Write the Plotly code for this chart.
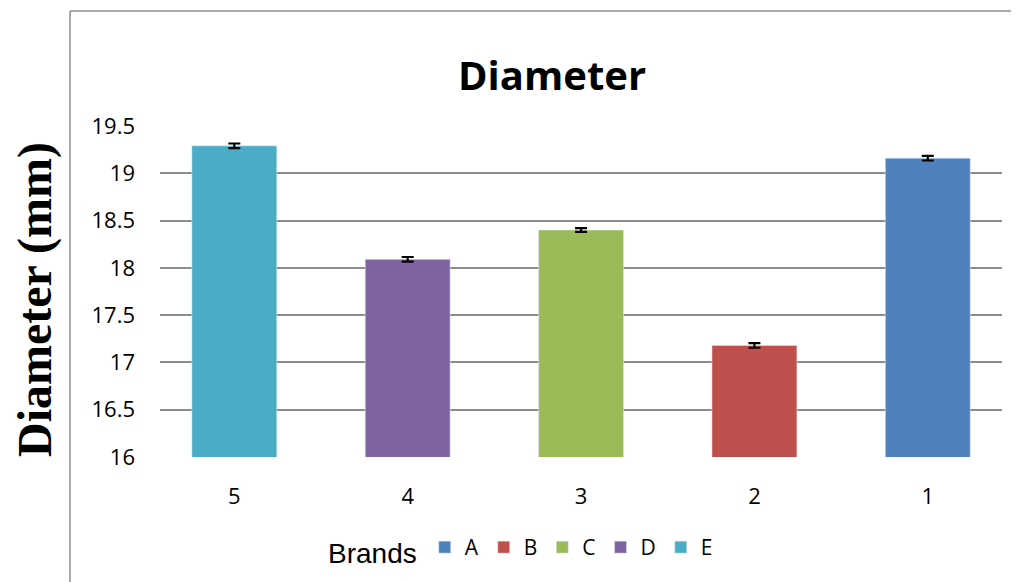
import plotly.graph_objects as go

brands = ["A", "B", "C", "D", "E"]
categories = ["1", "2", "3", "4", "5"]
values = [19.16, 17.18, 18.40, 18.09, 19.29]
errors = [0.025, 0.025, 0.02, 0.025, 0.025]
colors = ["#4F81BD", "#C0504D", "#9BBB59", "#8064A2", "#4BACC6"]
x_order = ["5", "4", "3", "2", "1"]
y_ticks = [16, 16.5, 17, 17.5, 18, 18.5, 19, 19.5]

fig = go.Figure()
for b, c, v, e, col in zip(brands, categories, values, errors, colors):
    fig.add_trace(go.Bar(
        x=[c], y=[v], name=b, marker_color=col, width=0.49,
        error_y=dict(type="data", array=[e], color="black", thickness=2.2, width=6),
    ))

# page body has an 8px margin; figure is sized/shifted to compensate
OFF = 8
W, H = 1019 - OFF, 582 - OFF
L, T = 160 - OFF, 126 - OFF
pw, ph = 842, 331
R = W - L - pw
B = H - T - ph

def px(x):
    return (x - OFF - L) / pw

def py(y):
    return (T + ph - (y - OFF)) / ph

fig.update_layout(
    width=W, height=H,
    margin=dict(l=L, r=R, t=T, b=B, autoexpand=False),
    paper_bgcolor="white", plot_bgcolor="white",
    barmode="overlay",
    font=dict(family="Open Sans", color="black", size=22),
    showlegend=True,
    legend=dict(
        orientation="h", x=px(326), xanchor="left", y=py(527), yanchor="top",
        title=dict(text="Brands", font=dict(family="Liberation Sans", size=28), side="left"),
        font=dict(family="Open Sans", size=21),
        itemwidth=30, tracegroupgap=0,
    ),
    xaxis=dict(
        type="category", categoryorder="array", categoryarray=x_order,
        range=[-0.4287, 4.428],
        showline=False, showgrid=False, ticks="", ticklabelstandoff=24,
        tickfont=dict(size=22), automargin=False,
    ),
    yaxis=dict(
        range=[16, 19.5], tickvals=y_ticks, ticktext=[f"{t:g}" for t in y_ticks],
        showgrid=True, gridcolor="#8C8C8C", gridwidth=1.6,
        zeroline=False, showline=False, ticks="", ticklabelstandoff=24,
        tickfont=dict(size=22), automargin=False,
    ),
    annotations=[
        dict(text="<b>Diameter</b>", x=px(552), y=py(74), xref="paper", yref="paper",
             showarrow=False, font=dict(family="Open Sans", size=40), xanchor="center", yanchor="middle"),
        dict(text="<b>Diameter (mm)</b>", x=px(35), y=py(300), xref="paper", yref="paper",
             showarrow=False, textangle=-90, font=dict(family="Liberation Serif", size=48),
             xanchor="center", yanchor="middle"),
    ],
    shapes=[
        dict(type="line", xref="paper", yref="paper", x0=px(70), x1=px(1040), y0=py(11), y1=py(11),
             line=dict(color="#8C8C8C", width=1.5)),
        dict(type="line", xref="paper", yref="paper", x0=px(70), x1=px(70), y0=py(11), y1=py(600),
             line=dict(color="#8C8C8C", width=1.5)),
    ],
)

fig.write_html("out.html")
